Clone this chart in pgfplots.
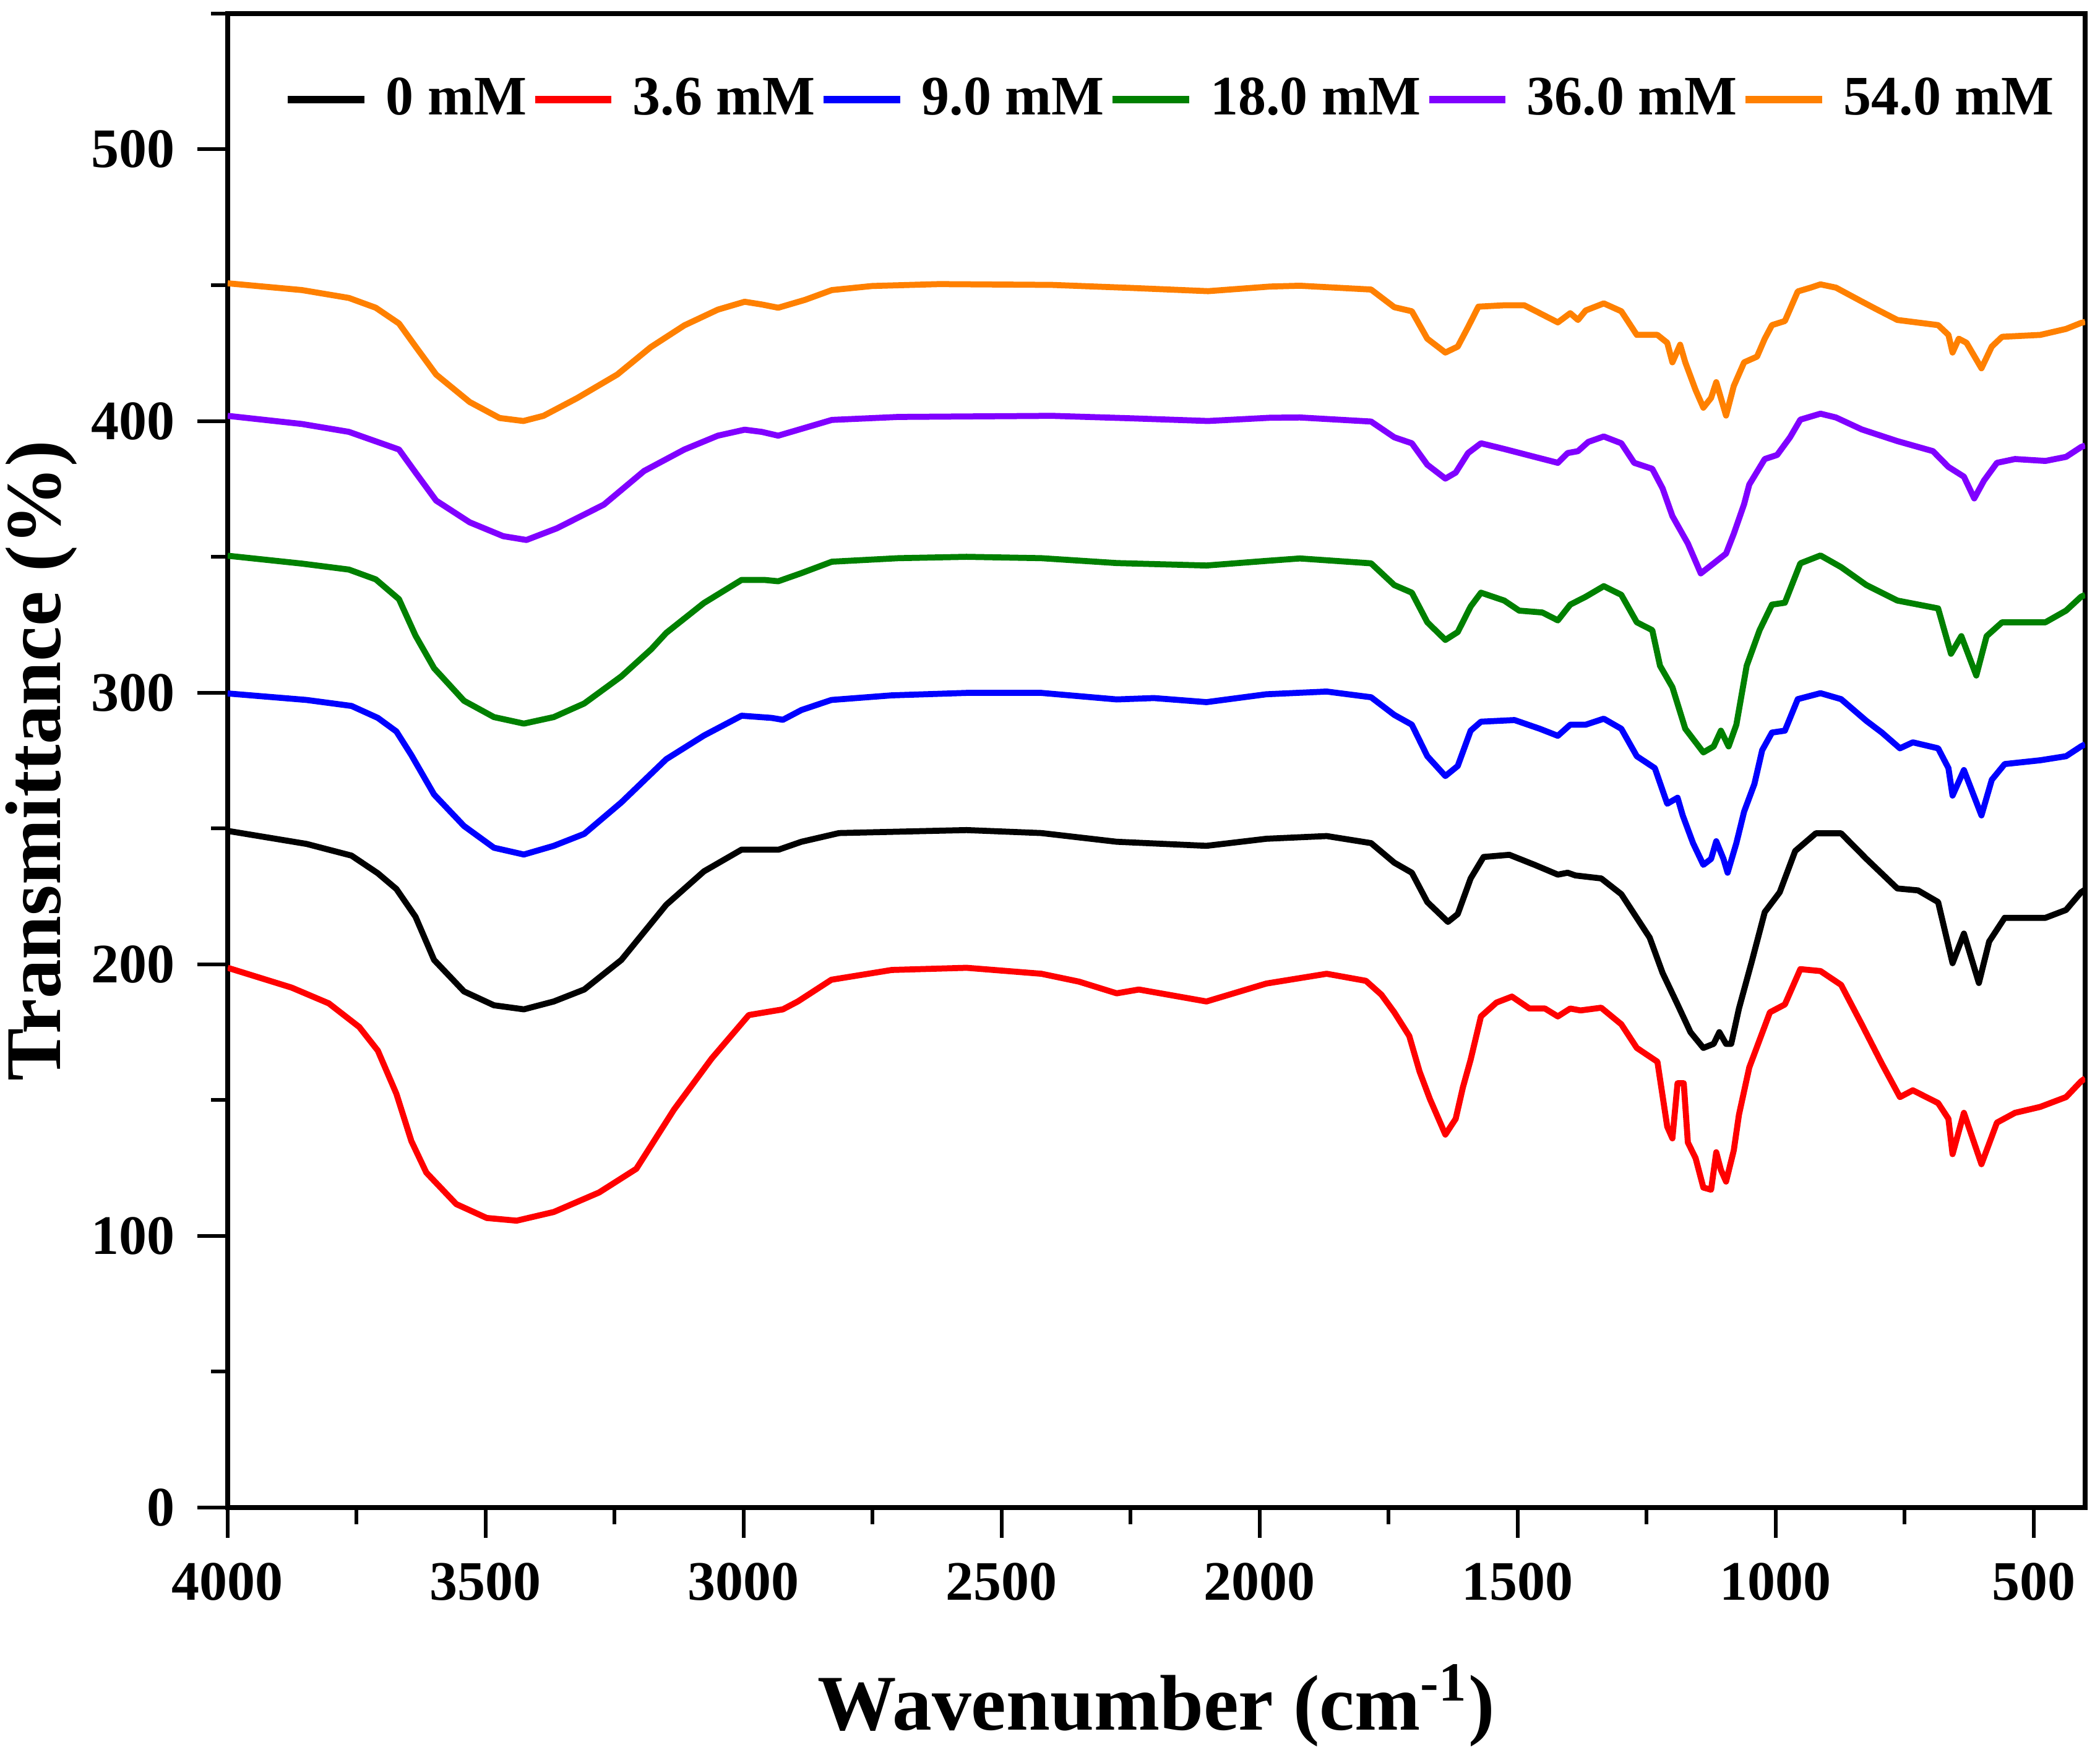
\documentclass[border=0pt]{standalone}
\usepackage{fontspec}
\setmainfont{Liberation Serif}
\usepackage{pgfplots}
\pgfplotsset{compat=1.18}
\definecolor{ogreen}{RGB}{0,128,0}
\definecolor{oviolet}{RGB}{128,0,255}
\definecolor{oorange}{RGB}{255,128,0}
\begin{document}
\begin{tikzpicture}
\begin{axis}[
  scale only axis, width=400.27pt, height=322pt,
  x dir=reverse, xmin=400, xmax=4000, ymin=0, ymax=550,
  xtick={500,1000,...,4000}, minor xtick={750,1250,...,3750},
  ytick={0,100,...,500}, minor ytick={50,150,...,550},
  tick align=outside, xtick pos=left, ytick pos=left,
  major tick length=6.5pt, minor tick length=3.6pt,
  axis line style={line width=1.1pt},
  every tick/.style={black, line width=0.8pt},
  ticklabel style={font=\fontsize{12}{14}\selectfont\bfseries},
  /pgf/number format/assume math mode=true,
  /pgf/number format/1000 sep={},
  xticklabel style={anchor=north, inner sep=0pt, yshift=-5.3pt},
  yticklabel style={anchor=east, inner sep=0pt, xshift=-4.7pt},
  xlabel={Wavenumber (cm\textsuperscript{-1})},
  ylabel={Transmittance (\%)},
  xlabel style={at={([yshift=-48pt]axis description cs:0.5,0)}, anchor=base, font=\fontsize{17}{20}\selectfont\bfseries, inner sep=0pt},
  ylabel style={at={([xshift=-36pt]axis description cs:0,0.5)}, anchor=base, rotate=0, font=\fontsize{17}{20}\selectfont\bfseries, inner sep=0pt},
  legend columns=6,
  legend image code/.code={\draw[#1, line width=1.6pt] (0pt,0pt) -- (16.5pt,0pt);},
  legend style={at={([xshift=12.2pt,yshift=-18.6pt]axis description cs:0,1)}, anchor=west,
    draw=none, fill=none, inner sep=0pt, outer sep=0pt,
    font=\fontsize{12}{14}\selectfont\bfseries,
    nodes={inner sep=0pt},
    /tikz/every odd column/.style={column sep=3.8pt},
    /tikz/every even column/.style={column sep=1.0pt}},
  every axis plot/.append style={line width=1.3pt, line join=round},
]
\coordinate (SW) at (axis description cs:0,0);
\coordinate (NE) at (axis description cs:1,1);

\addplot[black] coordinates {
(4000,249.1) (3847,244.3) (3760,240.0) (3709,233.5) (3673,227.7) (3636,217.5) (3600,201.6) (3542,190.0) (3484,184.9) (3426,183.4) (3368,186.3) (3309,190.7) (3237,201.6) (3150,221.9) (3077,234.2) (3004,242.2) (2932,242.2) (2888,245.1) (2815,248.3) (2568,249.4) (2423,248.3) (2277,245.1) (2103,243.6) (1987,246.2) (1870,247.2) (1784,244.6) (1739,237.4) (1705,233.7) (1675,222.9) (1635,215.6) (1616,218.5) (1591,231.6) (1566,239.5) (1516,240.3) (1467,236.6) (1422,233.0) (1403,233.7) (1388,232.7) (1338,231.6) (1299,225.8) (1244,209.8) (1219,196.8) (1190,185.2) (1165,175.0) (1140,169.2) (1120,170.7) (1109,175.0) (1096,170.7) (1086,170.7) (1071,183.7) (1046,201.1) (1021,219.2) (992,226.5) (962,241.7) (922,248.2) (873,248.2) (824,238.8) (764,227.9) (724,227.2) (685,222.9) (657,200.4) (635,211.3) (606,193.1) (586,208.4) (556,217.1) (477,217.1) (437,220.0) (408,226.5) (400,227.5)
};
\addlegendentry{0 mM}

\addplot[red] coordinates {
(4000,198.7) (3876,191.4) (3804,185.6) (3745,176.9) (3709,168.2) (3673,152.3) (3644,134.9) (3615,123.3) (3557,111.7) (3498,106.6) (3440,105.6) (3368,108.8) (3280,116.0) (3208,124.7) (3135,146.5) (3062,165.3) (2990,181.3) (2924,183.4) (2895,186.3) (2830,194.3) (2713,197.9) (2568,198.7) (2423,196.5) (2350,193.6) (2277,189.3) (2234,190.7) (2103,186.3) (1987,192.9) (1870,196.5) (1794,193.9) (1764,188.8) (1739,182.3) (1710,173.6) (1690,160.5) (1670,150.4) (1640,137.3) (1620,143.1) (1606,154.7) (1591,164.9) (1571,180.8) (1541,185.9) (1511,188.1) (1477,183.7) (1447,183.7) (1422,180.8) (1398,183.7) (1378,183.0) (1338,184.0) (1299,177.9) (1269,169.2) (1229,164.1) (1210,140.2) (1200,135.9) (1190,156.2) (1178,156.2) (1170,134.4) (1155,128.6) (1140,117.8) (1125,117.0) (1115,130.8) (1106,124.3) (1096,120.0) (1081,131.5) (1071,144.6) (1051,162.0) (1011,182.3) (982,185.2) (952,198.2) (913,197.5) (873,192.4) (833,177.9) (794,163.4) (759,151.1) (734,153.6) (685,148.9) (665,143.1) (657,130.1) (635,145.3) (601,126.4) (571,141.7) (536,145.3) (487,147.5) (437,151.1) (408,156.9) (400,158)
};
\addlegendentry{3.6 mM}

\addplot[blue] coordinates {
(4000,299.7) (3847,297.3) (3760,295.1) (3709,290.7) (3673,285.7) (3644,277.0) (3600,262.5) (3542,250.9) (3484,242.9) (3426,240.4) (3368,243.6) (3309,248.0) (3237,259.6) (3150,275.5) (3077,284.2) (3004,291.5) (2946,290.7) (2924,290.0) (2888,293.6) (2830,297.3) (2713,299.0) (2568,299.9) (2423,299.9) (2277,297.5) (2205,298.0) (2103,296.5) (1987,299.4) (1870,300.4) (1784,298.3) (1739,291.8) (1705,288.2) (1675,276.6) (1640,269.3) (1616,273.0) (1591,286.0) (1571,289.3) (1506,289.9) (1457,286.7) (1422,284.1) (1398,288.2) (1368,288.2) (1333,290.4) (1299,286.7) (1269,276.6) (1234,272.2) (1210,259.1) (1190,261.3) (1180,254.8) (1160,244.6) (1140,236.6) (1125,238.8) (1115,245.3) (1101,238.8) (1093,233.7) (1076,244.6) (1061,256.2) (1041,266.4) (1026,278.8) (1007,285.3) (982,286.0) (957,297.6) (913,299.8) (873,297.6) (824,289.6) (794,285.3) (759,279.5) (734,281.7) (685,279.5) (665,272.2) (657,262.1) (635,271.5) (601,254.8) (581,267.9) (556,273.7) (487,275.1) (437,276.6) (408,280.2) (400,281)
};
\addlegendentry{9.0 mM}

\addplot[ogreen] coordinates {
(4000,350.4) (3856,347.5) (3765,345.3) (3713,341.7) (3668,334.4) (3636,321) (3600,309) (3542,297) (3484,291) (3426,288.6) (3368,291) (3309,296) (3237,306) (3179,316) (3150,322) (3077,333) (3004,341.5) (2960,341.5) (2933,341.0) (2888,344) (2829,348.2) (2700,349.5) (2568,350) (2423,349.5) (2277,347.7) (2103,346.8) (1987,348.5) (1922,349.4) (1784,347.6) (1739,339.6) (1705,336.8) (1675,325.9) (1640,319.4) (1616,322.3) (1591,331.7) (1571,336.8) (1526,333.9) (1497,330.2) (1452,329.5) (1422,326.6) (1398,332.4) (1368,335.3) (1333,339.2) (1299,336.0) (1269,325.9) (1239,323.0) (1224,309.9) (1200,302.0) (1175,286.7) (1140,278.0) (1120,280.2) (1106,286.0) (1091,280.2) (1076,288.2) (1056,309.9) (1031,323.0) (1007,332.4) (982,333.1) (952,347.6) (913,350.5) (873,346.2) (824,339.6) (764,333.9) (685,331.0) (660,314.3) (640,320.8) (611,306.3) (591,320.8) (561,325.9) (477,325.9) (437,330.2) (408,335.3) (400,336)
};
\addlegendentry{18.0 mM}

\addplot[oviolet] coordinates {
(4000,401.9) (3856,398.9) (3765,396.0) (3668,389.5) (3635,380.8) (3596,370.7) (3531,362.7) (3466,357.6) (3421,356.2) (3362,360.5) (3271,369.2) (3193,381.6) (3115,389.5) (3050,394.6) (2998,396.8) (2965,396.0) (2933,394.6) (2881,397.5) (2829,400.4) (2700,401.5) (2402,401.9) (2250,401.0) (2100,400.0) (1980,401.2) (1922,401.3) (1784,399.8) (1739,394.0) (1705,391.8) (1675,383.9) (1640,378.8) (1620,381.0) (1596,388.2) (1571,391.8) (1526,389.7) (1467,386.8) (1422,384.6) (1403,388.2) (1383,388.9) (1363,392.3) (1333,394.3) (1299,391.8) (1274,384.6) (1239,382.4) (1219,375.2) (1200,365.0) (1170,354.9) (1145,343.9) (1120,347.6) (1096,351.2) (1081,358.5) (1061,369.4) (1051,376.6) (1021,386.0) (997,387.5) (972,394.0) (952,400.5) (913,402.7) (883,401.3) (833,396.9) (764,392.6) (695,388.9) (665,383.1) (635,379.5) (615,371.5) (596,378.1) (571,384.6) (536,386.0) (477,385.3) (437,386.8) (408,390.4) (400,391)
};
\addlegendentry{36.0 mM}

\addplot[oorange] coordinates {
(4000,450.7) (3856,448.2) (3765,445.3) (3713,441.7) (3668,435.9) (3635,427.2) (3596,417.1) (3531,407.0) (3473,401.1) (3427,400.0) (3388,401.9) (3323,408.4) (3245,417.1) (3180,427.2) (3115,435.2) (3050,441.0) (2998,443.9) (2965,442.9) (2933,441.7) (2881,444.6) (2829,448.2) (2751,449.7) (2621,450.4) (2402,450.1) (2250,449.0) (2100,447.8) (1980,449.5) (1922,449.8) (1784,448.4) (1739,441.9) (1705,440.4) (1675,430.3) (1640,425.2) (1616,427.4) (1596,434.6) (1576,442.1) (1526,442.6) (1487,442.6) (1457,439.7) (1422,436.3) (1398,439.7) (1383,437.2) (1368,440.7) (1333,443.3) (1299,440.4) (1269,431.7) (1229,431.7) (1210,428.8) (1200,421.6) (1185,428.1) (1175,421.6) (1155,411.4) (1140,404.9) (1125,408.5) (1115,414.3) (1106,408.5) (1096,402.0) (1081,412.9) (1061,421.6) (1036,423.7) (1021,430.3) (1007,435.3) (982,436.8) (957,447.7) (932,449.1) (913,450.3) (883,449.1) (833,444.0) (804,441.1) (764,437.2) (685,435.3) (665,431.7) (657,425.2) (645,430.3) (630,428.8) (601,419.4) (581,427.4) (561,431.0) (487,431.7) (437,433.9) (408,436.1) (400,436.5)
};
\addlegendentry{54.0 mM}
\end{axis}
\pgfresetboundingbox
\path[use as bounding box] ([xshift=-49.07pt,yshift=-53.33pt]SW) rectangle ([xshift=3.2pt,yshift=2.93pt]NE);
\end{tikzpicture}
\end{document}
